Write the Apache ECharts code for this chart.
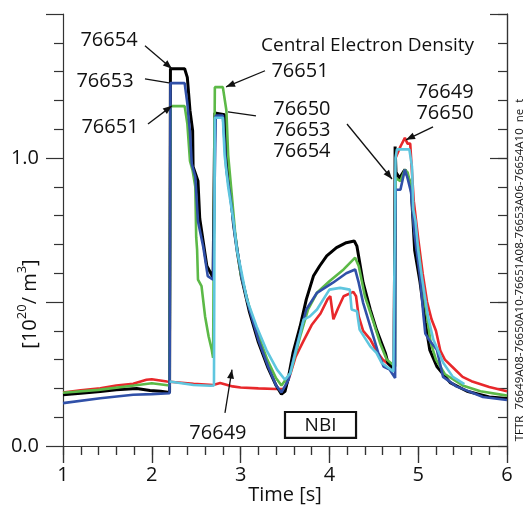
<!DOCTYPE html>
<html>
<head>
<meta charset="utf-8">
<script src="https://cdn.jsdelivr.net/npm/echarts@6/dist/echarts.min.js"></script>
<style>
  html, body { margin: 0; background: #fff; }
  #chart { width: 525px; height: 507px; }
</style>
</head>
<body>
<div id="chart"></div>
<script>
// shot 76649 (red)
const t76649 = [1.0, 1.2, 1.42, 1.6, 1.79, 1.94, 2.0, 2.17, 2.47, 2.69, 2.77, 2.91, 3.0, 3.2, 3.4, 3.5, 3.56, 3.62, 3.7, 3.8, 3.9, 3.98, 4.01, 4.045, 4.1, 4.16, 4.27, 4.3, 4.33, 4.38, 4.46, 4.53, 4.6, 4.72, 4.74, 4.745, 4.8, 4.85, 4.88, 4.91, 4.93, 4.95, 5.0, 5.05, 5.1, 5.15, 5.2, 5.25, 5.3, 5.4, 5.5, 5.6, 5.8, 6.0]
const n76649 = [0.186, 0.193, 0.2, 0.21, 0.216, 0.23, 0.232, 0.224, 0.216, 0.212, 0.219, 0.207, 0.203, 0.2, 0.198, 0.198, 0.25, 0.31, 0.36, 0.42, 0.46, 0.51, 0.52, 0.44, 0.48, 0.52, 0.535, 0.52, 0.45, 0.4, 0.37, 0.33, 0.3, 0.27, 0.265, 1.0, 1.04, 1.07, 1.05, 1.05, 0.95, 0.85, 0.72, 0.6, 0.5, 0.44, 0.4, 0.33, 0.3, 0.27, 0.24, 0.225, 0.205, 0.19]

// shot 76654 (black)
const t76654 = [1.0, 1.2, 1.42, 1.6, 1.83, 1.98, 2.1, 2.2, 2.21, 2.37, 2.4, 2.43, 2.46, 2.465, 2.52, 2.54, 2.6, 2.62, 2.69, 2.71, 2.82, 2.85, 2.88, 2.92, 2.96, 3.01, 3.1, 3.2, 3.31, 3.4, 3.46, 3.5, 3.54, 3.59, 3.67, 3.74, 3.82, 3.89, 3.97, 4.08, 4.19, 4.28, 4.31, 4.38, 4.46, 4.53, 4.63, 4.66, 4.73, 4.74, 4.75, 4.79, 4.85, 4.89, 4.92, 4.96, 5.02, 5.08, 5.13, 5.21, 5.36, 5.55, 5.8, 6.0]
const n76654 = [0.178, 0.183, 0.189, 0.195, 0.2, 0.193, 0.19, 0.186, 1.31, 1.31, 1.28, 1.165, 1.095, 0.97, 0.92, 0.79, 0.666, 0.625, 0.585, 1.156, 1.15, 1.0, 0.9, 0.77, 0.68, 0.585, 0.465, 0.36, 0.27, 0.21, 0.18, 0.19, 0.24, 0.323, 0.415, 0.509, 0.59, 0.625, 0.66, 0.689, 0.706, 0.712, 0.694, 0.567, 0.474, 0.404, 0.323, 0.288, 0.265, 1.04, 0.95, 0.93, 0.96, 0.93, 0.9, 0.68, 0.57, 0.43, 0.334, 0.276, 0.22, 0.19, 0.17, 0.165]

// shot 76651 (green)
const t76651 = [1.0, 1.4, 1.8, 2.0, 2.2, 2.21, 2.37, 2.4, 2.43, 2.46, 2.49, 2.5, 2.51, 2.52, 2.56, 2.6, 2.64, 2.675, 2.69, 2.71, 2.8, 2.84, 2.86, 2.9, 2.94, 2.97, 3.0, 3.1, 3.2, 3.3, 3.4, 3.46, 3.56, 3.67, 3.76, 3.86, 4.0, 4.16, 4.29, 4.33, 4.4, 4.5, 4.57, 4.645, 4.74, 4.745, 4.8, 4.85, 4.88, 4.92, 4.96, 5.0, 5.05, 5.1, 5.14, 5.2, 5.3, 5.5, 5.7, 6.0]
const n76651 = [0.185, 0.195, 0.21, 0.218, 0.21, 1.18, 1.18, 1.12, 0.99, 0.956, 0.9, 0.725, 0.683, 0.578, 0.555, 0.45, 0.38, 0.334, 0.306, 1.246, 1.246, 1.165, 1.01, 0.875, 0.735, 0.666, 0.6, 0.48, 0.385, 0.3, 0.235, 0.21, 0.253, 0.38, 0.474, 0.532, 0.572, 0.613, 0.654, 0.625, 0.52, 0.427, 0.358, 0.3, 0.276, 0.93, 0.92, 0.96, 0.95, 0.9, 0.74, 0.69, 0.55, 0.45, 0.36, 0.3, 0.25, 0.21, 0.19, 0.175]

// shot 76653 (blue)
const t76653 = [1.0, 1.42, 1.79, 2.0, 2.2, 2.21, 2.37, 2.4, 2.43, 2.45, 2.49, 2.52, 2.58, 2.63, 2.69, 2.72, 2.8, 2.84, 2.88, 2.94, 3.01, 3.1, 3.2, 3.31, 3.4, 3.46, 3.54, 3.63, 3.74, 3.86, 4.04, 4.19, 4.29, 4.33, 4.38, 4.46, 4.55, 4.61, 4.68, 4.74, 4.745, 4.8, 4.85, 4.88, 4.92, 4.96, 5.02, 5.06, 5.08, 5.12, 5.21, 5.28, 5.43, 5.73, 6.0]
const n76653 = [0.149, 0.166, 0.178, 0.18, 0.183, 1.26, 1.26, 1.19, 1.09, 0.98, 0.934, 0.78, 0.69, 0.59, 0.578, 1.147, 1.147, 0.956, 0.875, 0.724, 0.59, 0.474, 0.369, 0.276, 0.21, 0.186, 0.23, 0.346, 0.474, 0.532, 0.567, 0.6, 0.613, 0.567, 0.497, 0.415, 0.323, 0.276, 0.265, 0.236, 0.89, 0.89, 0.96, 0.93, 0.88, 0.73, 0.59, 0.45, 0.39, 0.37, 0.334, 0.24, 0.207, 0.17, 0.16]

// shot 76650 (cyan)
const t76650 = [2.2, 2.47, 2.66, 2.7, 2.71, 2.8, 2.82, 2.86, 2.92, 2.96, 3.0, 3.07, 3.18, 3.29, 3.41, 3.5, 3.56, 3.71, 3.78, 3.86, 4.0, 4.12, 4.23, 4.25, 4.31, 4.34, 4.46, 4.53, 4.59, 4.72, 4.74, 4.745, 4.76, 4.9, 4.93, 4.945, 4.97, 5.0, 5.04, 5.08, 5.11, 5.17, 5.22, 5.28, 5.39, 5.52]
const n76650 = [0.224, 0.212, 0.209, 0.21, 1.14, 1.14, 1.01, 0.9, 0.78, 0.677, 0.62, 0.51, 0.415, 0.334, 0.265, 0.23, 0.253, 0.439, 0.45, 0.474, 0.543, 0.549, 0.543, 0.474, 0.468, 0.404, 0.346, 0.323, 0.288, 0.259, 0.255, 1.0, 1.03, 1.03, 0.97, 0.82, 0.78, 0.68, 0.59, 0.51, 0.45, 0.37, 0.334, 0.29, 0.24, 0.215]

const shots = [
  { name: '76649', t: t76649, n: n76649, color: '#e8282b' },
  { name: '76654', t: t76654, n: n76654, color: '#000000' },
  { name: '76651', t: t76651, n: n76651, color: '#5cb947' },
  { name: '76653', t: t76653, n: n76653, color: '#3050a8' },
  { name: '76650', t: t76650, n: n76650, color: '#5fc6df' }
]

const font = 'Open Sans'

const chart = echarts.init(document.getElementById('chart'))

function zip(t, n) {
  return t.map((x, i) => [x, n[i]])
}

const tickStyle = { color: '#333', width: 1.2 }

// top / right frame axes: ticks point inward, no labels
function frameAxis(extra) {
  return Object.assign({
    type: 'value',
    axisLine: { show: true, lineStyle: tickStyle },
    axisLabel: { show: false },
    splitLine: { show: false }
  }, extra)
}

chart.setOption({
  animation: false,
  textStyle: { fontFamily: font },
  title: {
    text: 'Central Electron Density',
    left: 256,
    top: 31,
    textStyle: { fontSize: 19, fontWeight: 'normal', color: '#111', fontFamily: font }
  },
  grid: { left: 63, right: 18, top: 14, bottom: 61, outerBoundsMode: 'none' },
  xAxis: [
    {
      type: 'value', min: 1, max: 6, interval: 1,
      name: 'Time [s]', nameLocation: 'middle', nameGap: 39, nameMoveOverlap: false,
      nameTextStyle: { fontSize: 20, color: '#111' },
      axisLine: { lineStyle: tickStyle },
      axisTick: { length: 17, lineStyle: tickStyle },
      minorTick: { show: true, splitNumber: 5, length: 9, lineStyle: tickStyle },
      axisLabel: { fontSize: 20, color: '#111', margin: 19 },
      splitLine: { show: false }
    },
    frameAxis({ min: 1, max: 6, interval: 0.2, position: 'top',
      axisTick: { inside: true, length: 9, lineStyle: tickStyle } }),
    frameAxis({ min: 1, max: 6, interval: 1, position: 'top',
      axisTick: { inside: true, length: 17, lineStyle: tickStyle } })
  ],
  yAxis: [
    {
      type: 'value', min: 0, max: 1.5, interval: 0.5,
      axisLine: { show: true, lineStyle: tickStyle },
      axisTick: { show: true, length: 17, lineStyle: tickStyle },
      minorTick: { show: true, splitNumber: 5, length: 9, lineStyle: tickStyle },
      axisLabel: {
        fontSize: 20, color: '#111', margin: 24,
        formatter: v => (Math.abs(v - Math.round(v)) < 1e-6 && v < 1.4) ? v.toFixed(1) : ''
      },
      splitLine: { show: false }
    },
    frameAxis({ min: 0, max: 1.5, interval: 0.1, position: 'right',
      axisTick: { show: true, inside: true, length: 9, lineStyle: tickStyle } }),
    frameAxis({ min: 0, max: 1.5, interval: 0.5, position: 'right',
      axisTick: { show: true, inside: true, length: 17, lineStyle: tickStyle } })
  ],
  series: shots.map(s => ({
    name: s.name,
    type: 'line',
    data: zip(s.t, s.n),
    showSymbol: false,
    lineStyle: { color: s.color, width: s.color === '#000000' ? 3 : 2.6 },
    itemStyle: { color: s.color },
    z: 2
  }))
})

// annotations anchored in data space
function px(p) {
  return chart.convertToPixel({ xAxisIndex: 0, yAxisIndex: 0 }, p)
}

function label(text, at, size) {
  const p = px(at)
  return {
    type: 'text', x: p[0], y: p[1], z: 10,
    style: { text: text, fontSize: size || 20, fontFamily: font, fill: '#111', align: 'center', verticalAlign: 'middle', lineHeight: 21 }
  }
}

function arrow(a, b, head) {
  const p = px(a)
  const q = px(b)
  const els = [{
    type: 'line', z: 10,
    shape: { x1: p[0], y1: p[1], x2: q[0], y2: q[1] },
    style: { stroke: '#111', lineWidth: 1.3 }
  }]
  if (head) {
    const ang = Math.atan2(q[1] - p[1], q[0] - p[0])
    const L = 9, W = 3.5
    const bx = q[0] - L * Math.cos(ang), by = q[1] - L * Math.sin(ang)
    els.push({
      type: 'polygon', z: 10,
      shape: { points: [q, [bx - W * Math.sin(ang), by + W * Math.cos(ang)], [bx + W * Math.sin(ang), by - W * Math.cos(ang)]] },
      style: { fill: '#111' }
    })
  }
  return els
}

const nbiA = px([3.5, 0.118])
const nbiB = px([4.3, 0.028])

const graphics = [
  label('76654', [1.518, 1.408]),
  ...arrow([1.923, 1.39], [2.227, 1.31], true),
  label('76653', [1.473, 1.265]),
  ...arrow([1.923, 1.275], [2.194, 1.261], false),
  label('76651', [1.529, 1.108]),
  ...arrow([1.957, 1.118], [2.227, 1.181], true),
  label('76651', [3.669, 1.30]),
  ...arrow([3.275, 1.303], [2.836, 1.247], true),
  label('76650\n76653\n76654', [3.691, 1.096]),
  ...arrow([3.173, 1.146], [2.858, 1.16], false),
  ...arrow([4.198, 1.118], [4.705, 0.927], true),
  label('76649\n76650', [5.302, 1.193]),
  ...arrow([5.167, 1.108], [4.863, 1.063], true),
  label('76649', [2.745, 0.045]),
  ...arrow([2.824, 0.115], [2.903, 0.265], true),
  {
    type: 'rect', z: 10,
    shape: { x: nbiA[0], y: nbiA[1], width: nbiB[0] - nbiA[0], height: nbiB[1] - nbiA[1] },
    style: { fill: '#fff', stroke: '#111', lineWidth: 2.2 }
  },
  label('NBI', [3.9, 0.071], 19),
  {
    type: 'text', x: 28, y: 304, rotation: Math.PI / 2, z: 10,
    style: {
      text: '{a|[10}{s|20}{a|/ m}{s|3}{a|]}',
      align: 'center', verticalAlign: 'middle',
      rich: {
        a: { fontSize: 20, fontFamily: font, fill: '#111', verticalAlign: 'bottom' },
        s: { fontSize: 13, fontFamily: font, fill: '#111', padding: [0, 0, 12, 0], verticalAlign: 'bottom' }
      }
    }
  },
  {
    type: 'text', x: 520, y: 270, rotation: Math.PI / 2, z: 10,
    style: {
      text: 'TFTR  76649A08-76650A10-76651A08-76653A06-76654A10  ne  t',
      fontSize: 11.5, fontFamily: font, fill: '#111', align: 'center', verticalAlign: 'middle'
    }
  }
]

chart.setOption({ graphic: graphics })
</script>
</body>
</html>
